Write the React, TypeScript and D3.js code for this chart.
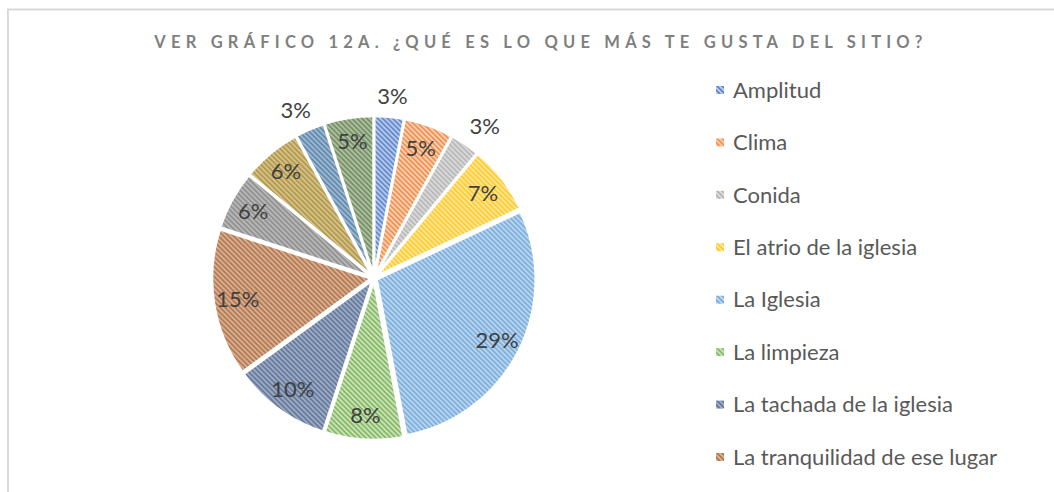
import React from "react";
import * as d3 from "d3";

const categories = [
  "Amplitud",
  "Clima",
  "Conida",
  "El atrio de la iglesia",
  "La Iglesia",
  "La limpieza",
  "La tachada de la iglesia",
  "La tranquilidad de ese lugar",
  "Otro 1",
  "Otro 2",
  "Otro 3",
  "Otro 4",
];
const values = [3, 5, 3, 7, 29, 8, 10, 15, 6, 6, 3, 5];
const labels = ["3%", "5%", "3%", "7%", "29%", "8%", "10%", "15%", "6%", "6%", "3%", "5%"];
const outsideLabel = [true, false, true, false, false, false, false, false, false, false, true, false];
const legendCount = 8;
const colors = [
  "#4472C4", "#ED7D31", "#A5A5A5", "#FFC000", "#5B9BD5", "#70AD47",
  "#264478", "#9E480E", "#636363", "#997300", "#255E91", "#43682B",
];
const title = "VER GRÁFICO 12A. ¿QUÉ ES LO QUE MÁS TE GUSTA DEL SITIO?";

const W = 1054;
const H = 492;
const cx = 374;
const cy = 278;
const R = 159;
const explode = 3;
const font = "Lato, 'Open Sans', sans-serif";

export default function App() {
  const pie = d3.pie<number>().value((d) => d).sort(null);
  const arcs = pie(values);
  const arcGen = d3.arc<d3.PieArcDatum<number>>().innerRadius(0).outerRadius(R);
  const legendY = d3.scaleLinear().domain([0, legendCount - 1]).range([90, 457]);

  const tint = (c: string, t: number) => d3.interpolateRgb(c, "#ffffff")(t);

  return (
    <svg width={W} height={H} style={{ position: "absolute", left: 0, top: 0, background: "#fff" }}>
      <defs>
        {colors.map((c, i) => (
          <pattern key={i} id={`pat${i}`} patternUnits="userSpaceOnUse" width={5} height={5}>
            <rect width={5} height={5} fill={tint(c, i >= 6 ? 0.58 : 0.62)} />
            <path d="M-1,4 L1,6 M0,0 L5,5 M4,-1 L6,1" stroke={tint(c, i >= 6 ? 0.18 : 0.05)} strokeWidth={1.4} />
          </pattern>
        ))}
      </defs>
      <rect x={0} y={0} width={W} height={H} fill="#fff" />
      <path d={`M8,${H} L8,9.5 L${W},9.5`} fill="none" stroke="#d9d9d9" strokeWidth={2} />
      <text
        x={541}
        y={48}
        textAnchor="middle"
        fontFamily={font}
        fontWeight="bold"
        fontSize={16.5}
        letterSpacing={5.2}
        fill="#7f7f7f"
      >
        {title}
      </text>
      <g transform={`translate(${cx},${cy})`}>
        {arcs.map((a, i) => {
          const mid = (a.startAngle + a.endAngle) / 2;
          const dx = Math.sin(mid) * explode;
          const dy = -Math.cos(mid) * explode;
          return (
            <path
              key={i}
              d={arcGen(a) || ""}
              transform={`translate(${dx},${dy})`}
              fill={`url(#pat${i})`}
              stroke="#fff"
              strokeWidth={2.5}
            />
          );
        })}
        {arcs.map((a, i) => {
          const mid = (a.startAngle + a.endAngle) / 2;
          const out = outsideLabel[i];
          const lr = out ? 183 : 138;
          const x = Math.sin(mid) * lr + (out ? Math.sin(mid) * 14 : 0);
          const y = -Math.cos(mid) * lr;
          return (
            <text
              key={i}
              x={x}
              y={y}
              dy="0.35em"
              textAnchor="middle"
              fontFamily={font}
              fontSize={22}
              fill="#404040"
            >
              {labels[i]}
            </text>
          );
        })}
      </g>
      {categories.slice(0, legendCount).map((c, i) => (
        <g key={i} transform={`translate(716,${legendY(i)})`}>
          <rect x={0} y={-4} width={8} height={8} fill={`url(#pat${i})`} />
          <text x={17} y={0} dy="0.35em" fontFamily={font} fontSize={22} fill="#595959">
            {c}
          </text>
        </g>
      ))}
    </svg>
  );
}
